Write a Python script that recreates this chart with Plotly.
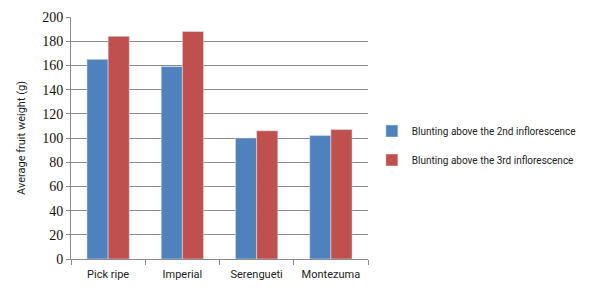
import plotly.graph_objects as go

categories = ["Pick ripe", "Imperial", "Serengueti", "Montezuma"]
series1_name = "Blunting above the 2nd inflorescence"
series2_name = "Blunting above the 3rd inflorescence"
series1 = [165, 159, 100, 102]
series2 = [184, 188, 106, 107]
y_ticks = [0, 20, 40, 60, 80, 100, 120, 140, 160, 180, 200]

narrow = "Liberation Sans Narrow, Arial Narrow, Roboto, sans-serif"
serif = "Liberation Serif, Times New Roman, DejaVu Serif, serif"

fig = go.Figure()
fig.add_trace(go.Bar(x=categories, y=series1, name=series1_name, marker_color="#4F81BD",
                     legendgroup="a"))
fig.add_trace(go.Bar(x=categories, y=series2, name=series2_name, marker_color="#C0504D",
                     legendgroup="b"))

fig.update_layout(
    width=582, height=284,
    margin=dict(l=63, r=222, t=9, b=33, autoexpand=False),
    paper_bgcolor="white", plot_bgcolor="white",
    barmode="group", bargap=0.43, bargroupgap=0,
    showlegend=True,
    legend=dict(x=1.013, y=0.469, xanchor="left", yanchor="middle",
                font=dict(family=narrow, size=10, color="#222"),
                traceorder="grouped", tracegroupgap=10, itemwidth=30,
                bgcolor="rgba(0,0,0,0)"),
    yaxis=dict(range=[0, 200], tickvals=y_ticks, showgrid=True, gridcolor="#8c8c8c",
               gridwidth=1, showline=True, linecolor="#8c8c8c", ticks="outside",
               ticklen=4, tickcolor="#8c8c8c", zeroline=False, automargin=False,
               tickfont=dict(family=serif, size=14, color="#111"),
               title=dict(text="Average fruit weight (g)", standoff=14,
                          font=dict(family=narrow, size=11, color="#222"))),
    xaxis=dict(showline=True, linecolor="#8c8c8c", ticks="outside", tickson="boundaries",
               ticklen=5, tickcolor="#8c8c8c", tickangle=0, automargin=False,
               ticklabelstandoff=5,
               tickfont=dict(family=narrow, size=11, color="#222")),
)

fig.write_html("out.html")
